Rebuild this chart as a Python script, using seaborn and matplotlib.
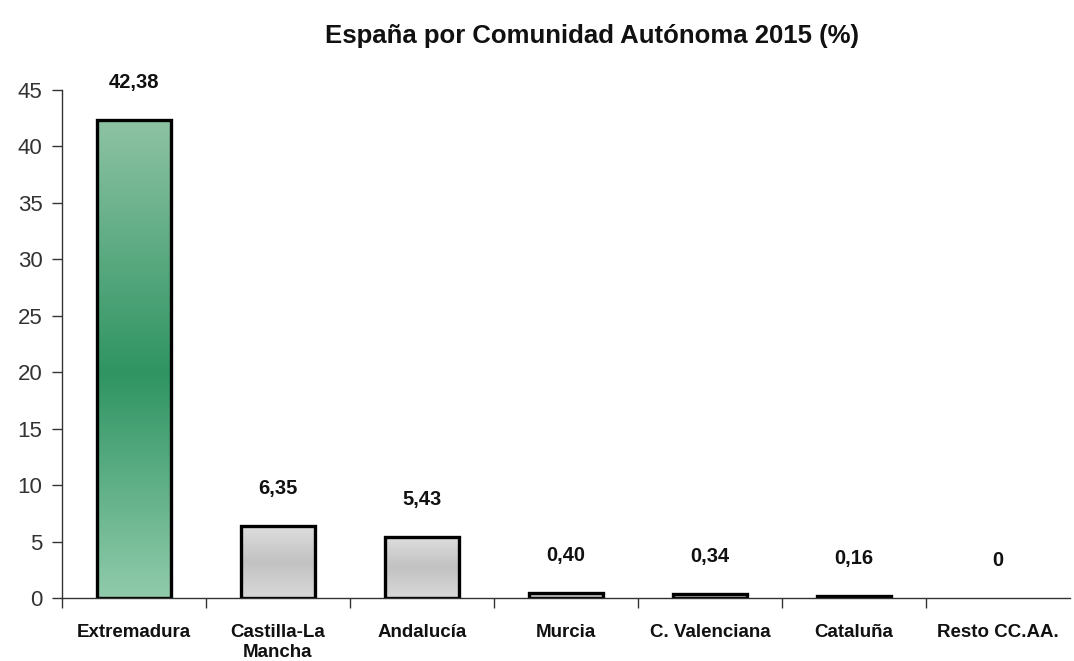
import numpy as np
import pandas as pd
import matplotlib
matplotlib.use("Agg")
import matplotlib.pyplot as plt
import seaborn as sns
from matplotlib.colors import LinearSegmentedColormap

# Percentage share by region, 2015
regions = ["Extremadura", "Castilla-La\nMancha", "Andalucía", "Murcia",
           "C. Valenciana", "Cataluña", "Resto CC.AA."]
shares = [42.38, 6.35, 5.43, 0.40, 0.34, 0.16, 0.0]
value_labels = ["42,38", "6,35", "5,43", "0,40", "0,34", "0,16", "0"]
title = "España por Comunidad Autónoma 2015 (%)"
y_ticks = [0, 5, 10, 15, 20, 25, 30, 35, 40, 45]

df = pd.DataFrame({"region": regions, "share": shares})

sns.set_theme(style="white")
plt.rcParams["font.family"] = ["Liberation Sans", "DejaVu Sans"]

fig = plt.figure(figsize=(10.74, 6.61), dpi=100)
ax = fig.add_axes([62 / 1074, 1 - 598 / 661, (1070 - 62) / 1074, (598 - 90) / 661])

sns.barplot(data=df, x="region", y="share", ax=ax, width=0.51,
            color="#cccccc", edgecolor="black", linewidth=2.4, saturation=1)

ax.set_xlim(-0.5, 6.5)
ax.set_ylim(0, 45)

# Vertical gradients: light at the ends, darker in the middle of each bar
green = LinearSegmentedColormap.from_list(
    "g", [(0.0, "#90cbab"), (0.47, "#2f9462"), (1.0, "#8ec3a4")])
grey = LinearSegmentedColormap.from_list(
    "s", [(0.0, "#d9d9d9"), (0.5, "#c2c2c2"), (1.0, "#dedede")])
ramp = np.linspace(0, 1, 256).reshape(-1, 1)

for i, patch in enumerate(ax.patches):
    x0, w, h = patch.get_x(), patch.get_width(), patch.get_height()
    if h <= 0:
        patch.set_visible(False)
        continue
    cmap = green if i == 0 else grey
    img = ax.imshow(ramp, cmap=cmap, origin="lower", aspect="auto",
                    extent=[x0, x0 + w, 0, h], zorder=patch.get_zorder() - 0.1)
    img.set_clip_path(patch)
    patch.set_facecolor("none")

ax.set_xlim(-0.5, 6.5)
ax.set_ylim(0, 45)

# Value labels above each bar
for i, (v, lab) in enumerate(zip(shares, value_labels)):
    ax.annotate(lab, (i, v), xytext=(0, 27), textcoords="offset points",
                ha="center", va="center", fontsize=14.5, fontweight="bold",
                color="#111111")

# Axes styling
for side in ["top", "right"]:
    ax.spines[side].set_visible(False)
for side in ["left", "bottom"]:
    ax.spines[side].set_color("#333333")
    ax.spines[side].set_linewidth(1.0)

ax.set_yticks(y_ticks)
ax.tick_params(axis="y", which="major", direction="out", length=7,
               width=1, color="#333333", labelsize=16, labelcolor="#333333",
               pad=7, left=True)
ax.set_xticks(range(len(regions)))
ax.set_xticklabels(regions, fontsize=13.5, fontweight="bold", color="#111111",
                   linespacing=1.2)
ax.tick_params(axis="x", which="major", length=0, pad=19)
ax.set_xticks(np.arange(-0.5, 6.0, 1.0), minor=True)
ax.tick_params(axis="x", which="minor", direction="out", length=7,
               width=1, color="#333333", bottom=True)
for lab in ax.get_xticklabels():
    lab.set_verticalalignment("top")

ax.set_xlabel("")
ax.set_ylabel("")

fig.text(592 / 1074, 1 - 36 / 661, title, ha="center", va="center",
         fontsize=18.5, fontweight="bold", color="#111111")

fig.savefig("out.png", dpi=100, facecolor="white")
